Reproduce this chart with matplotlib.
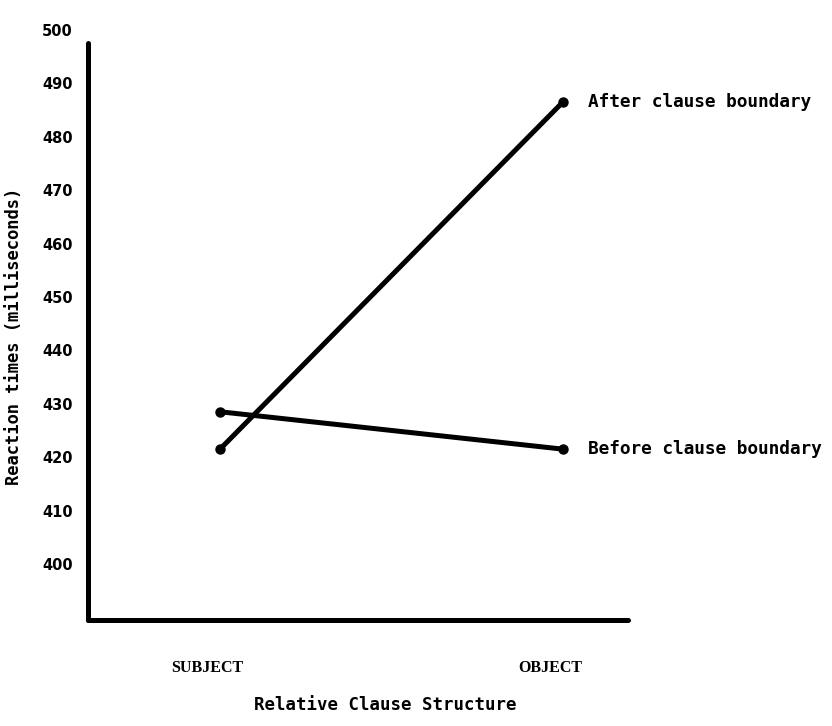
import matplotlib
matplotlib.use("Agg")
import matplotlib.pyplot as plt
import matplotlib.transforms as mtransforms

# ==== Data ====
conditions = ["SUBJECT", "OBJECT"]
after_boundary = [421.5, 486.5]
before_boundary = [428.5, 421.5]
series_labels = ["After clause boundary", "Before clause boundary"]
y_ticks = [400, 410, 420, 430, 440, 450, 460, 470, 480, 490, 500]

MONO = "DejaVu Sans Mono"

fig = plt.figure(figsize=(8.32, 7.26), dpi=100)
ax = fig.add_axes([0.1058, 0.146, 0.649, 0.8127])

x = list(range(len(conditions)))
for vals, label in [(after_boundary, series_labels[0]), (before_boundary, series_labels[1])]:
    ax.plot(x, vals, color="black", linewidth=3.6, marker="o", markersize=6.5,
            solid_capstyle="round")
    ax.annotate(label, xy=(x[-1], vals[-1]), xytext=(18, 0), textcoords="offset points",
                va="center", ha="left", fontsize=12.8, fontweight="bold",
                family=MONO, annotation_clip=False)

ax.set_xlim(-0.385, 1.19)
ax.set_ylim(389.5, 500)

# spines: only left and bottom, heavy; vertical axis stops a bit under the 500 label
for side in ["top", "right"]:
    ax.spines[side].set_visible(False)
for side in ["left", "bottom"]:
    ax.spines[side].set_linewidth(3.6)
    ax.spines[side].set_capstyle("round")
ax.spines["left"].set_bounds(389.5, 497.5)

ax.set_yticks(y_ticks)
ax.set_yticklabels([str(v) for v in y_ticks], fontsize=10.5, fontweight="bold")
ax.tick_params(axis="y", length=0, pad=11)

ax.set_xticks(x)
ax.set_xticklabels(conditions, fontsize=11.5, fontweight="bold", family="Liberation Serif")
ax.tick_params(axis="x", length=0, pad=29)
shift = mtransforms.ScaledTranslation(-13 / 100, 0, fig.dpi_scale_trans)
for lbl in ax.get_xticklabels():
    lbl.set_transform(lbl.get_transform() + shift)

ax.set_ylabel("Reaction times (milliseconds)", fontsize=12.3, fontweight="bold", family=MONO)
ax.yaxis.set_label_coords(-0.121, 0.48)
ax.set_xlabel("Relative Clause Structure", fontsize=12.5, fontweight="bold", family=MONO)
ax.xaxis.set_label_coords(0.55, -0.128)

fig.savefig("out.png", dpi=100)
plt.close(fig)
